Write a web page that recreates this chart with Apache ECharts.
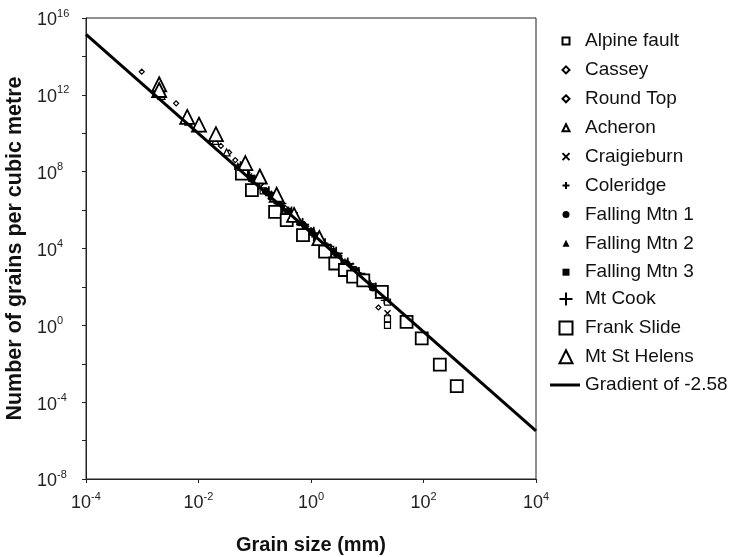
<!DOCTYPE html>
<html><head><meta charset="utf-8">
<script src="https://cdn.jsdelivr.net/npm/echarts@6/dist/echarts.min.js"></script>
<style>html,body{margin:0;padding:0;background:#fff}#c{width:732px;height:557px}</style>
</head><body><div id="c"></div>
<script>
// ---- data: [grain size (mm), number of grains per cubic metre] ----
const alpineFault = [[1.41e-1,1.0e7],[3.5e-1,1.0e6],[1.0,7.1e4],[2.24,8.9e3],[5.6,800],[12.6,100],[22.9,16],[22.9,2.2],[22.9,1.0]];
const cassey = [[9.8e-4,1.6e13],[4.0e-3,3.6e11],[1.12e-2,1.6e10],[2.5e-2,2.2e9],[3.5e-2,1.0e9],[4.5e-2,4.0e8],[5.6e-2,2.0e8],[1.26e-1,2.2e7],[3.16e-1,1.6e6],[1.0,8.9e4],[3.16,4.0e3],[15.8,8.5]];
const roundTop = [[7.1e-2,8.9e7],[1.58e-1,8.9e6],[3.5e-1,1.12e6],[7.9e-1,1.4e5],[2.0,1.12e4],[5.0,1.0e3],[11.2,126]];
const acheron = [[2.0e-3,1.6e12],[2.2e-3,8.9e11],[6.6e-3,4.0e10],[2.0e-2,4.0e9],[3.16e-2,1.0e9],[6.3e-2,1.26e8],[1.0e-1,4.0e7],[2.0e-1,6.3e6],[4.0e-1,7.9e5]];
const craigieburn = [[7.9e-2,5.6e7],[1.26e-1,1.6e7],[2.0e-1,5.0e6],[3.0e-1,1.8e6],[5.0e-1,4.0e5],[7.9e-1,1.26e5],[1.26,3.2e4],[2.0,1.0e4],[3.16,3.2e3],[5.0,1.26e3],[10,158],[15.8,63],[22.9,4.2]];
const coleridge = [[6.3e-2,1.12e8],[1.0e-1,3.2e7],[1.58e-1,7.9e6],[2.5e-1,3.2e6],[4.0e-1,7.1e5],[6.3e-1,2.5e5],[1.0,7.9e4],[1.58,2.0e4],[2.5,6.3e3],[4.0,2.0e3],[6.3,630],[10,200],[20,20]];
const fallingMtn1 = [[5.6e-2,1.26e8],[8.9e-2,4.0e7],[1.58e-1,1.0e7],[2.5e-1,2.8e6],[4.0e-1,8.9e5],[6.3e-1,2.2e5],[1.05,7.1e4],[1.58,2.2e4],[2.5,7.1e3],[4.2,1.78e3],[6.3,710],[8.9,251],[12.6,89]];
const fallingMtn2 = [[5.0e-2,2.0e8],[1.0e-1,2.8e7],[2.0e-1,5.6e6],[3.16e-1,1.41e6],[5.0e-1,5.0e5],[7.9e-1,1.58e5],[1.26,4.0e4],[2.0,1.26e4],[3.3,3.5e3],[5.0,1.12e3],[7.9,355],[15.8,40]];
const fallingMtn3 = [[6.3e-2,1.0e8],[1.12e-1,2.0e7],[1.78e-1,7.1e6],[2.8e-1,2.0e6],[4.5e-1,6.3e5],[7.1e-1,2.0e5],[1.12,5.0e4],[1.78,1.58e4],[2.8,5.0e3],[4.5,1.58e3],[7.1,447],[12.0,112]];
const mtCook = [[5.6e-2,1.58e8],[7.9e-2,6.3e7],[1.78e-1,7.9e6],[2.8e-1,2.2e6],[4.5e-1,7.1e5],[7.1e-1,1.78e5],[1.12,6.3e4],[1.78,1.58e4],[2.8,5.6e3],[4.5,1.58e3],[7.1,500],[14.1,79]];
const frankSlide = [[5.9e-2,7.9e7],[8.9e-2,1.1e7],[2.3e-1,8.1e5],[3.7e-1,3.0e5],[7.2e-1,5.0e4],[1.78,6.8e3],[2.7,1.66e3],[4.0,760],[5.6,340],[8.5,220],[18.2,55],[50,1.5],[93,0.21],[195,9.1e-3],[390,6.8e-4]];
const mtStHelens = [[2.0e-3,3.55e12],[2.0e-3,1.78e12],[6.3e-3,7.1e10],[1.02e-2,2.8e10],[2.04e-2,8.9e9],[6.8e-2,2.8e8],[1.23e-1,5.6e7],[2.45e-1,6.3e6],[5.0e-1,5.6e5],[1.41,3.5e4]];
const gradientLine = [[1e-4,1.41e15],[1e4,3.2e-6]];

const seriesNames = ['Alpine fault','Cassey','Round Top','Acheron','Craigieburn','Coleridge','Falling Mtn 1','Falling Mtn 2','Falling Mtn 3','Mt Cook','Frank Slide','Mt St Helens'];
const lineName = 'Gradient of -2.58';
const xTickExponents = [-4,-2,0,2,4];
const yTickExponents = [-8,-4,0,4,8,12,16];
const xTitle = 'Grain size (mm)';
const yTitle = 'Number of grains per cubic metre';

// ---- styling ----
const FONT = "'Liberation Sans', Arial, sans-serif";
const CROSS = 'path://M0,0L10,10M10,0L0,10';
const PLUS = 'path://M5,0L5,10M0,5L10,5';
const seriesData = [alpineFault,cassey,roundTop,acheron,craigieburn,coleridge,fallingMtn1,fallingMtn2,fallingMtn3,mtCook,frankSlide,mtStHelens];
const looks = [
  {symbol:'rect', size:6, fill:'#fff', bw:1.2},
  {symbol:'diamond', size:5, fill:'#fff', bw:1.2},
  {symbol:'diamond', size:7, fill:'#fff', bw:1.2},
  {symbol:'triangle', size:7, fill:'#fff', bw:1.2},
  {symbol:CROSS, size:6, fill:'rgba(0,0,0,0)', bw:1.4},
  {symbol:PLUS, size:7, fill:'rgba(0,0,0,0)', bw:1.4},
  {symbol:'circle', size:7, fill:'#000', bw:0},
  {symbol:'triangle', size:8, fill:'#000', bw:0},
  {symbol:'rect', size:5, fill:'#000', bw:0},
  {symbol:PLUS, size:13, fill:'rgba(0,0,0,0)', bw:1.7},
  {symbol:'rect', size:12, fill:'#fff', bw:1.8},
  {symbol:'triangle', size:14, fill:'#fff', bw:1.8}
];

function expLabel(list) {
  return function (v) {
    const e = Math.round(Math.log10(v));
    if (list.indexOf(e) < 0) return '';
    return '{b|10}{s|' + e + '}';
  };
}
const rich = {
  b: {fontSize: 18, fontFamily: FONT, color: '#222', padding: [5, 0, 0, 0], lineHeight: 20},
  s: {fontSize: 11, fontFamily: FONT, color: '#222', verticalAlign: 'top', lineHeight: 12}
};

const series = seriesData.map(function (d, i) {
  const lk = looks[i];
  return {
    type: 'scatter', name: seriesNames[i], data: d,
    symbol: lk.symbol, symbolSize: lk.size, symbolKeepAspect: true,
    itemStyle: {color: lk.fill, borderColor: '#000', borderWidth: lk.bw, opacity: 1},
    emphasis: {disabled: true}
  };
});
series.push({
  type: 'line', name: lineName, data: gradientLine, symbol: 'none', showSymbol: false,
  lineStyle: {color: '#000', width: 3}, itemStyle: {color: '#000'}, z: 5,
  emphasis: {disabled: true}
});

const legendText = {fontSize: 19, lineHeight: 22, color: '#111', fontFamily: FONT};
const option = {
  animation: false,
  backgroundColor: '#fff',
  grid: {left: 86, right: 196, top: 18, bottom: 78, containLabel: false, outerBoundsMode: 'none',
         show: true, borderColor: '#222', borderWidth: 1, backgroundColor: 'transparent'},
  xAxis: {
    type: 'log', logBase: 10, min: 1e-4, max: 1e4, interval: 2,
    name: xTitle, nameLocation: 'middle', nameGap: 56,
    nameTextStyle: {fontSize: 20, fontWeight: 'bold', fontFamily: FONT, color: '#111'},
    axisLine: {lineStyle: {color: '#222', width: 1}},
    axisTick: {show: true, length: 4, inside: false, lineStyle: {color: '#222'}},
    splitLine: {show: false}, minorTick: {show: false},
    axisLabel: {margin: 12, formatter: expLabel(xTickExponents), rich: rich, interval: 0, showMinLabel: true, showMaxLabel: true}
  },
  yAxis: {
    type: 'log', logBase: 10, min: 1e-8, max: 1e16, interval: 2,
    name: yTitle, nameLocation: 'middle', nameGap: 58, nameRotate: 90,
    nameTextStyle: {fontSize: 21.5, fontWeight: 'bold', fontFamily: FONT, color: '#111'},
    axisLine: {lineStyle: {color: '#222', width: 1}},
    axisTick: {show: true, length: 4, inside: false, lineStyle: {color: '#222'}},
    splitLine: {show: false}, minorTick: {show: false},
    axisLabel: {margin: 49, align: 'left', formatter: expLabel(yTickExponents), rich: rich, interval: 0, showMinLabel: true, showMaxLabel: true}
  },
  legend: [
    {data: seriesNames.slice(0, 9), orient: 'vertical', left: 556.5, top: 25, itemWidth: 7, itemHeight: 7, itemGap: 6.9,
     textStyle: Object.assign({padding: [0, 0, 0, 10.5]}, legendText), selectedMode: false},
    {data: seriesNames.slice(9, 12), orient: 'vertical', left: 553.5, top: 283, itemWidth: 13, itemHeight: 13, itemGap: 6.9,
     textStyle: Object.assign({padding: [0, 0, 0, 7.5]}, legendText), selectedMode: false},
    {data: [{name: lineName, icon: 'rect'}], orient: 'vertical', left: 545, top: 369, itemWidth: 30, itemHeight: 3,
     textStyle: legendText, selectedMode: false}
  ],
  series: series
};
const chart = echarts.init(document.getElementById('c'), null, {renderer: 'canvas'});
chart.setOption(option);
</script>
</body></html>
